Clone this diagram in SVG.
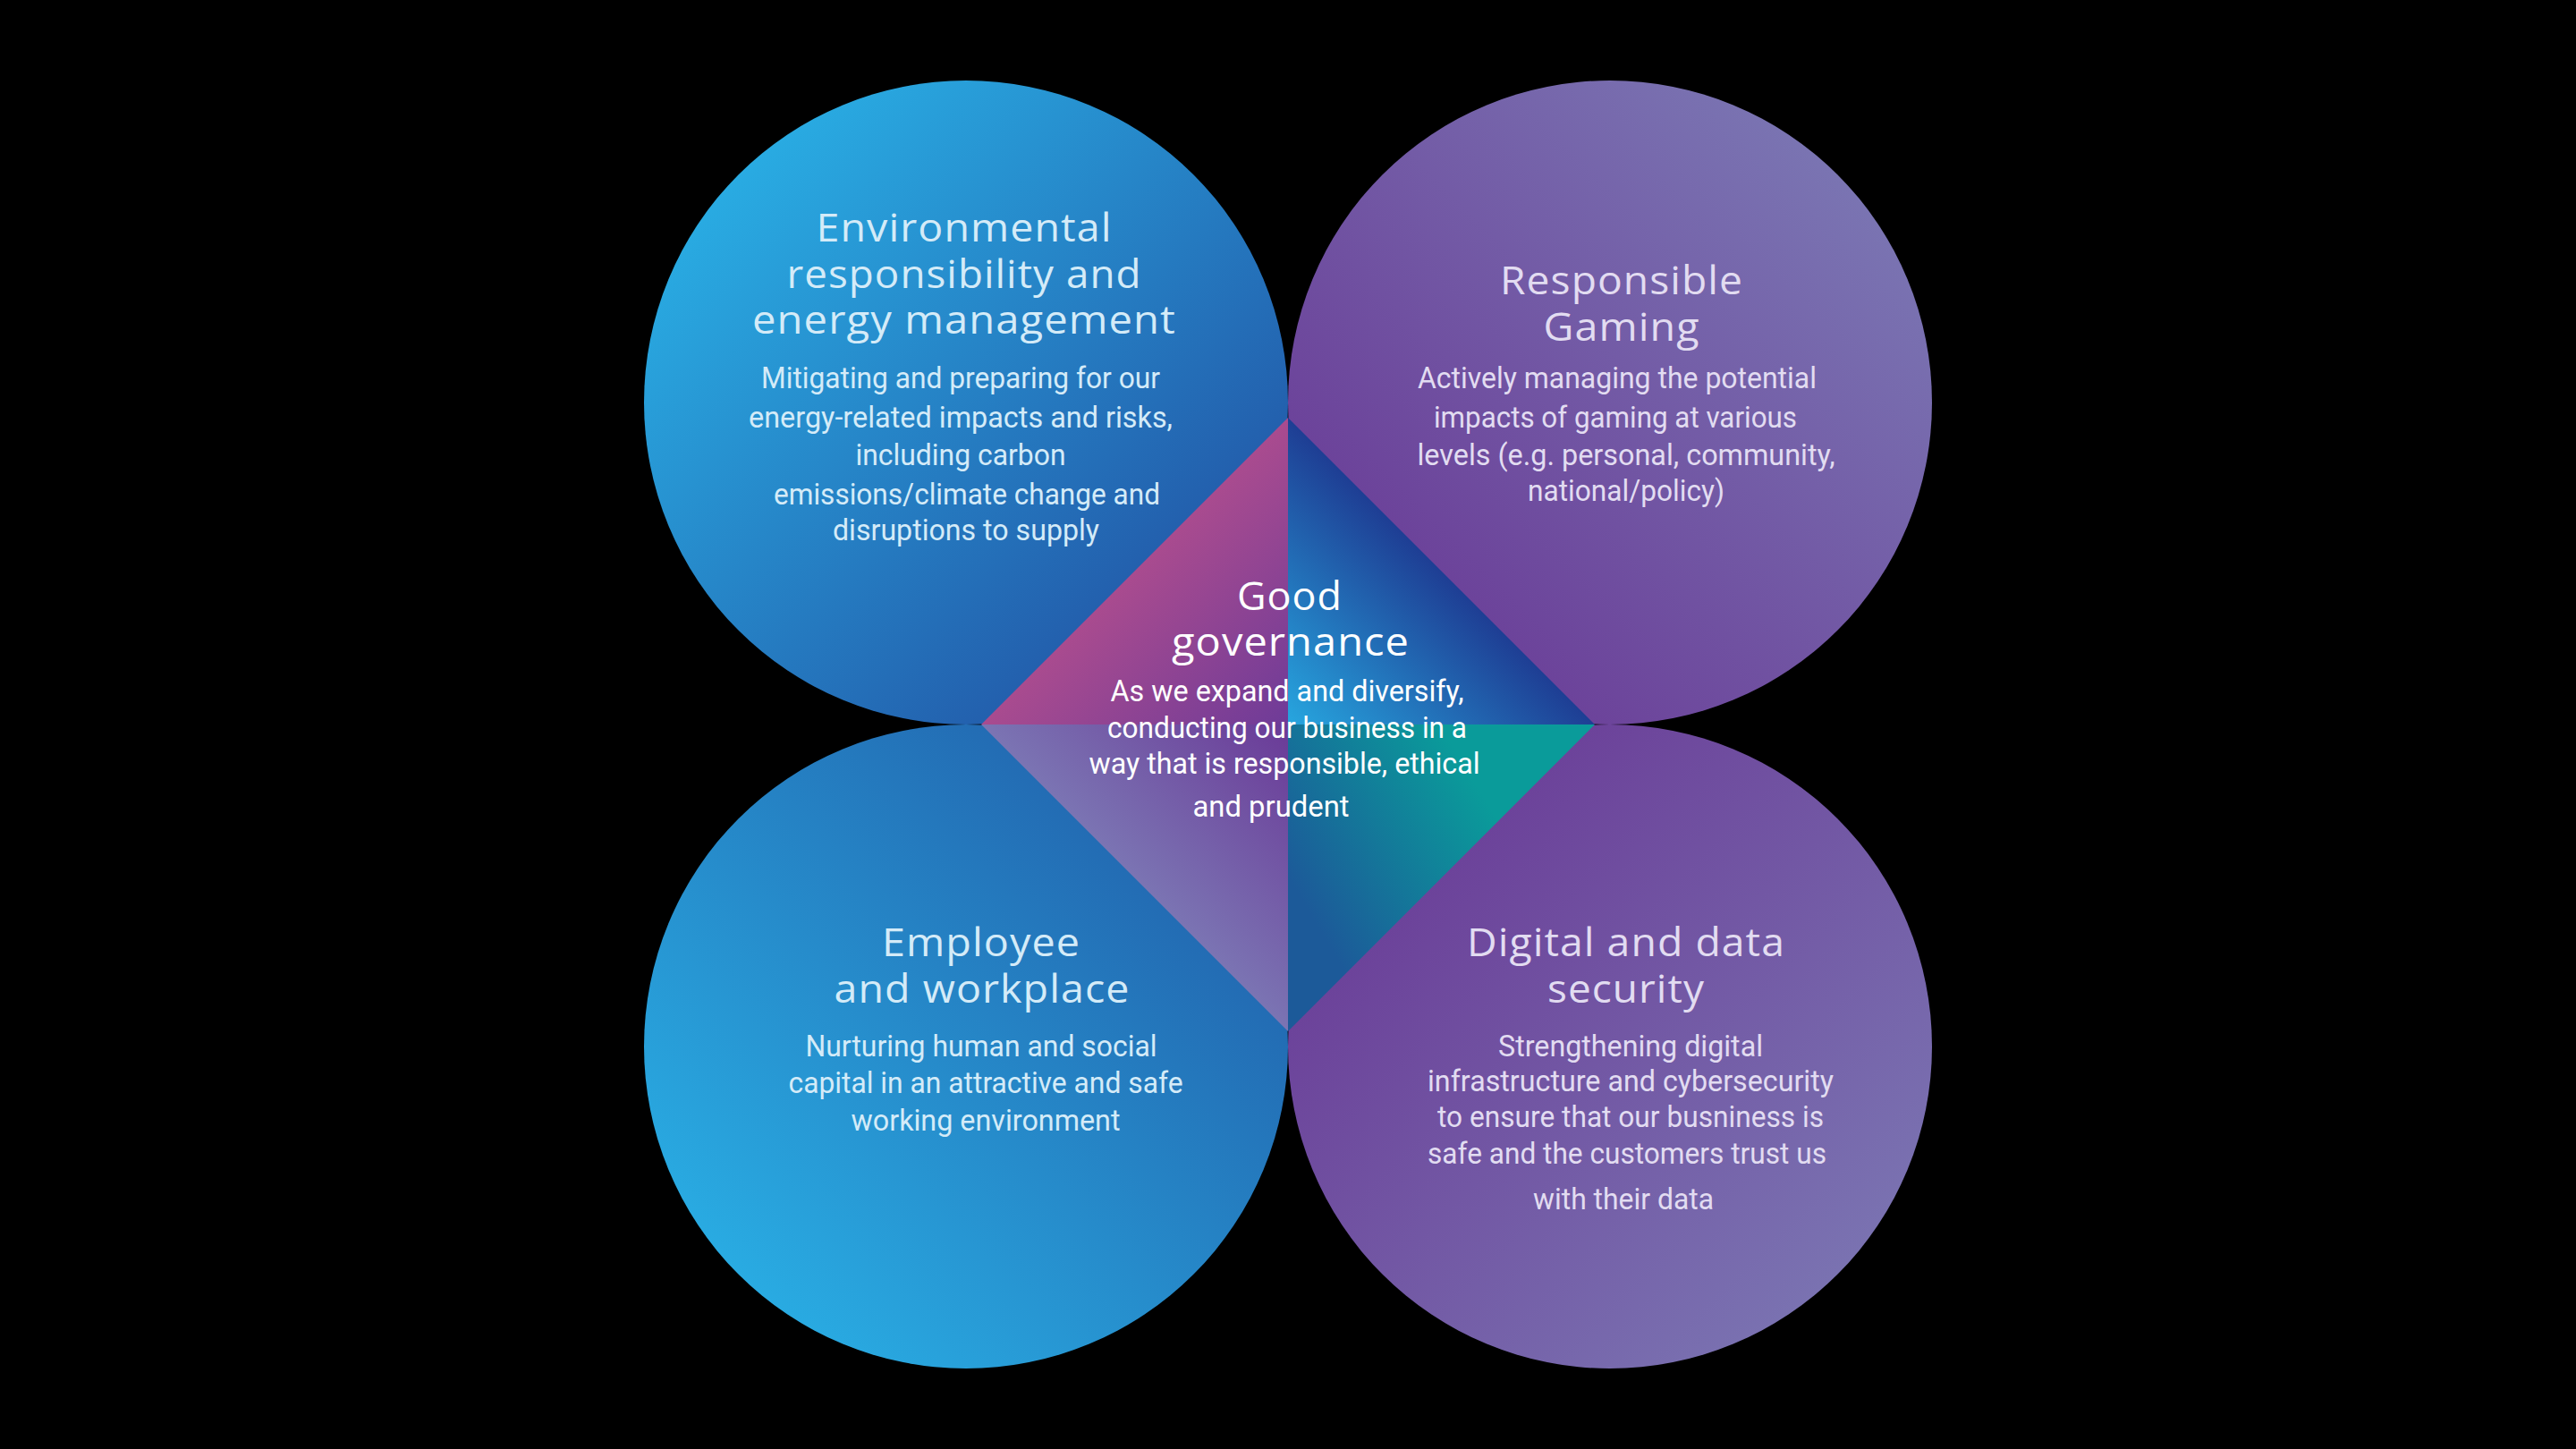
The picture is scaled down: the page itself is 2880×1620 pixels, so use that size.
<svg xmlns="http://www.w3.org/2000/svg" width="2880" height="1620" viewBox="0 0 2880 1620">
<defs>
<linearGradient id="gTL" gradientUnits="userSpaceOnUse" x1="825" y1="195" x2="1335" y2="705"><stop offset="0" stop-color="#29abe2"/><stop offset="1" stop-color="#2255a6"/></linearGradient>
<linearGradient id="gTR" gradientUnits="userSpaceOnUse" x1="1545" y1="705" x2="2055" y2="195"><stop offset="0" stop-color="#6a3c97"/><stop offset="1" stop-color="#7a74b2"/></linearGradient>
<linearGradient id="gBL" gradientUnits="userSpaceOnUse" x1="825" y1="1425" x2="1335" y2="915"><stop offset="0" stop-color="#29abe2"/><stop offset="1" stop-color="#2263ad"/></linearGradient>
<linearGradient id="gBR" gradientUnits="userSpaceOnUse" x1="1545" y1="915" x2="2055" y2="1425"><stop offset="0" stop-color="#6a3c97"/><stop offset="1" stop-color="#7a72b1"/></linearGradient>
<linearGradient id="dTL" gradientUnits="userSpaceOnUse" x1="1268" y1="638" x2="1440" y2="810"><stop offset="0" stop-color="#a94b8f"/><stop offset="1" stop-color="#6e3b98"/></linearGradient>
<linearGradient id="dTR" gradientUnits="userSpaceOnUse" x1="1611" y1="638" x2="1440" y2="810"><stop offset="0" stop-color="#1e3e94"/><stop offset="1" stop-color="#27a6df"/></linearGradient>
<linearGradient id="dBL" gradientUnits="userSpaceOnUse" x1="1268" y1="981" x2="1440" y2="810"><stop offset="0" stop-color="#7b74b3"/><stop offset="1" stop-color="#6a3a97"/></linearGradient>
<linearGradient id="dBR" gradientUnits="userSpaceOnUse" x1="1440" y1="981" x2="1640" y2="860"><stop offset="0" stop-color="#1c5a99"/><stop offset="1" stop-color="#0a9b9a"/></linearGradient>
</defs>
<style>
.title{font-family:"Open Sans","Noto Sans","Liberation Sans",sans-serif;font-size:44px;letter-spacing:1px;text-anchor:middle}
.body{font-family:"Roboto","Liberation Sans",sans-serif;font-size:33px;text-anchor:middle}
.blue{fill:#d4ebf8}
.purp{fill:#e2dcf1}
.wht{fill:#ffffff}
</style>
<rect width="2880" height="1620" fill="#000000"/>
<g id="node-environmental">
<circle cx="1080" cy="450" r="360" fill="url(#gTL)"/>
</g>
<g id="node-responsible-gaming">
<circle cx="1800" cy="450" r="360" fill="url(#gTR)"/>
</g>
<g id="node-employee">
<circle cx="1080" cy="1170" r="360" fill="url(#gBL)"/>
</g>
<g id="node-digital">
<circle cx="1800" cy="1170" r="360" fill="url(#gBR)"/>
</g>
<g id="node-good-governance">
<polygon points="1440,467 1097,810 1440,810" fill="url(#dTL)"/>
<polygon points="1440,467 1783,810 1440,810" fill="url(#dTR)"/>
<polygon points="1097,810 1440,1153 1440,810" fill="url(#dBL)"/>
<polygon points="1783,810 1440,1153 1440,810" fill="url(#dBR)"/>
</g>
<g id="connectors"></g>
<g id="text-environmental" transform="translate(0,3)">
<text class="title blue" x="1078" y="267" textLength="331" lengthAdjust="spacingAndGlyphs">Environmental</text>
<text class="title blue" x="1078" y="319" textLength="397" lengthAdjust="spacingAndGlyphs">responsibility and</text>
<text class="title blue" x="1078" y="370" textLength="474" lengthAdjust="spacingAndGlyphs">energy management</text>
<text class="body blue" x="1074" y="431" textLength="446" lengthAdjust="spacingAndGlyphs">Mitigating and preparing for our</text>
<text class="body blue" x="1074" y="475" textLength="474" lengthAdjust="spacingAndGlyphs">energy-related impacts and risks,</text>
<text class="body blue" x="1074" y="517" textLength="235" lengthAdjust="spacingAndGlyphs">including carbon</text>
<text class="body blue" x="1081" y="561" textLength="432" lengthAdjust="spacingAndGlyphs">emissions/climate change and</text>
<text class="body blue" x="1080" y="601" textLength="298" lengthAdjust="spacingAndGlyphs">disruptions to supply</text>
</g>
<g id="text-responsible-gaming" transform="translate(0,3)">
<text class="title purp" x="1813" y="326" textLength="272" lengthAdjust="spacingAndGlyphs">Responsible</text>
<text class="title purp" x="1813" y="378" textLength="175" lengthAdjust="spacingAndGlyphs">Gaming</text>
<text class="body purp" x="1808" y="431" textLength="446" lengthAdjust="spacingAndGlyphs">Actively managing the potential</text>
<text class="body purp" x="1806" y="475" textLength="406" lengthAdjust="spacingAndGlyphs">impacts of gaming at various</text>
<text class="body purp" x="1818" y="517" textLength="467" lengthAdjust="spacingAndGlyphs">levels (e.g. personal, community,</text>
<text class="body purp" x="1818" y="557" textLength="220" lengthAdjust="spacingAndGlyphs">national/policy)</text>
</g>
<g id="text-good-governance" transform="translate(0,3)">
<text class="title wht" x="1442" y="679" textLength="118" lengthAdjust="spacingAndGlyphs">Good</text>
<text class="title wht" x="1443" y="730" textLength="266" lengthAdjust="spacingAndGlyphs">governance</text>
<text class="body wht" x="1439" y="781" textLength="395" lengthAdjust="spacingAndGlyphs">As we expand and diversify,</text>
<text class="body wht" x="1439" y="822" textLength="402" lengthAdjust="spacingAndGlyphs">conducting our business in a</text>
<text class="body wht" x="1436" y="862" textLength="437" lengthAdjust="spacingAndGlyphs">way that is responsible, ethical</text>
<text class="body wht" x="1421" y="910" textLength="175" lengthAdjust="spacingAndGlyphs">and prudent</text>
</g>
<g id="text-employee" transform="translate(0,3)">
<text class="title blue" x="1097" y="1066" textLength="222" lengthAdjust="spacingAndGlyphs">Employee</text>
<text class="title blue" x="1098" y="1118" textLength="331" lengthAdjust="spacingAndGlyphs">and workplace</text>
<text class="body blue" x="1097" y="1178" textLength="393" lengthAdjust="spacingAndGlyphs">Nurturing human and social</text>
<text class="body blue" x="1102" y="1219" textLength="441" lengthAdjust="spacingAndGlyphs">capital in an attractive and safe</text>
<text class="body blue" x="1102" y="1261" textLength="301" lengthAdjust="spacingAndGlyphs">working environment</text>
</g>
<g id="text-digital" transform="translate(0,3)">
<text class="title purp" x="1818" y="1066" textLength="356" lengthAdjust="spacingAndGlyphs">Digital and data</text>
<text class="title purp" x="1818" y="1118" textLength="176" lengthAdjust="spacingAndGlyphs">security</text>
<text class="body purp" x="1823" y="1178" textLength="296" lengthAdjust="spacingAndGlyphs">Strengthening digital</text>
<text class="body purp" x="1823" y="1217" textLength="454" lengthAdjust="spacingAndGlyphs">infrastructure and cybersecurity</text>
<text class="body purp" x="1823" y="1257" textLength="432" lengthAdjust="spacingAndGlyphs">to ensure that our busniness is</text>
<text class="body purp" x="1819" y="1298" textLength="446" lengthAdjust="spacingAndGlyphs">safe and the customers trust us</text>
<text class="body purp" x="1815" y="1349" textLength="202" lengthAdjust="spacingAndGlyphs">with their data</text>
</g>
</svg>
